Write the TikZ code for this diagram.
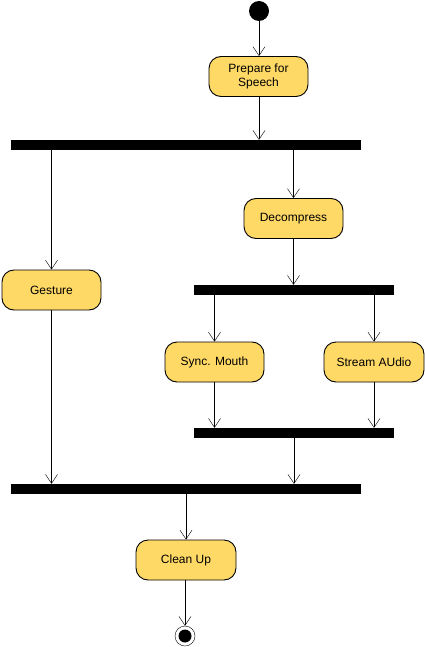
\documentclass[tikz,border=0pt]{standalone}
\usepackage{fontspec}
\setmainfont{Liberation Sans}
\usetikzlibrary{arrows.meta,positioning}
\definecolor{actfill}{HTML}{FFD966}

\begin{document}
\begin{tikzpicture}[x=1pt,y=-1pt,
  action/.style={draw=black,line width=0.9pt,fill=actfill,rounded corners=12pt,minimum width=99pt,minimum height=40pt,
    align=center,font=\fontsize{12}{14}\selectfont,inner sep=2pt},
  bar/.style={fill=black,inner sep=0pt,minimum height=10pt},
  flow/.style={draw=black,-{Straight Barb[length=9pt,width=12pt]}}]
  \useasboundingbox (0,0) rectangle (425,647);
  \node[circle,fill=black,minimum size=20pt,inner sep=0pt] (start) at (259,11) {};
  \node[action] (prep) at (258.5,76.5) {Prepare for\\Speech};
  \node[bar,minimum width=350pt] (fork1) at (186,145) {};
  \node[action] (decomp) at (293.5,218.5) {Decompress};
  \node[action] (gesture) at (51.5,290) {Gesture};
  \node[bar,minimum width=200pt] (fork2) at (294,290) {};
  \node[action] (sync) at (214.5,362) {Sync. Mouth};
  \node[action,minimum width=100pt] (stream) at (374,362) {Stream AUdio};
  \node[bar,minimum width=200pt] (join1) at (294,433) {};
  \node[bar,minimum width=350pt] (join2) at (186,489) {};
  \node[action,minimum width=100pt] (clean) at (186,560) {Clean Up};
  \node[draw=black,circle,minimum size=20pt,inner sep=0pt] (end) at (185,636) {};
  \fill[black] (end) circle (6.5pt);

  \draw[flow] (start.south) -- (prep.north -| start.south);
  \draw[flow] (prep.south -| start.south) -- (fork1.north -| start.south);
  \draw[flow] (fork1.south -| decomp.north) -- (decomp.north);
  \draw[flow] (fork1.south -| gesture.north) -- (gesture.north);
  \draw[flow] (decomp.south) -- (fork2.north -| decomp.south);
  \draw[flow] (fork2.south -| sync.north) -- (sync.north);
  \draw[flow] (fork2.south -| stream.north) -- (stream.north);
  \draw[flow] (sync.south) -- (join1.north -| sync.south);
  \draw[flow] (stream.south) -- (join1.north -| stream.south);
  \draw[flow] (join1.south) -- (join2.north -| join1.south);
  \draw[flow] (gesture.south) -- (join2.north -| gesture.south);
  \draw[flow] (join2.south -| clean.north) -- (clean.north);
  \draw[flow] (clean.south -| end.north) -- (end.north);
\end{tikzpicture}
\end{document}
